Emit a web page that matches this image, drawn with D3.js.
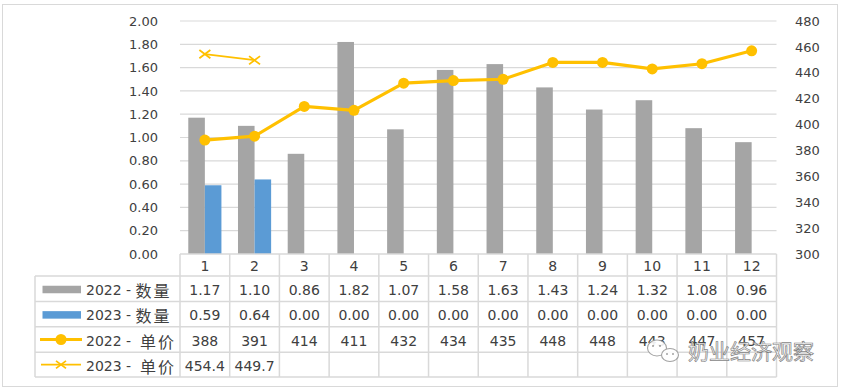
<!DOCTYPE html>
<html><head><meta charset="utf-8">
<script src="https://cdn.jsdelivr.net/npm/d3@7"></script>
<style>body{margin:0;background:#fff}svg{display:block}text{font-family:"DejaVu Sans","Noto Sans CJK SC",sans-serif;}</style>
</head><body><svg id="c" width="842" height="390"></svg>
<script>
const categories = ["1","2","3","4","5","6","7","8","9","10","11","12"];
const qty2022 = [1.17,1.10,0.86,1.82,1.07,1.58,1.63,1.43,1.24,1.32,1.08,0.96];
const qty2023 = [0.59,0.64,0,0,0,0,0,0,0,0,0,0];
const price2022 = [388,391,414,411,432,434,435,448,448,443,447,457];
const price2023 = [454.4,449.7,null,null,null,null,null,null,null,null,null,null];
const leftTicks = [0,0.2,0.4,0.6,0.8,1.0,1.2,1.4,1.6,1.8,2.0];
const rightTicks = [300,320,340,360,380,400,420,440,460,480];
const seriesYears = ["2022 - ","2023 - ","2022 -  ","2023 -  "];
const seriesWords = ["数量","数量","单价","单价"];

const svg = d3.select("#c");
const L=180, R=776.5, T=21, B=254;
const grey="#A5A5A5", blue="#5B9BD5", gold="#FFC000", gridC="#D9D9D9", txtC="#404040";

// outer border
svg.append("rect").attr("x",2.5).attr("y",4.5).attr("width",835).attr("height",382).attr("fill","#fff").attr("stroke","#D9D9D9");

const x = d3.scaleBand().domain(categories).range([L,R]);
const bw = x.bandwidth();
const xi = d3.scaleBand().domain(["a","b"]).range([bw/6, bw*5/6]);
const yL = d3.scaleLinear().domain([0,2]).range([B,T]);
const yR = d3.scaleLinear().domain([300,480]).range([B,T]);

// gridlines
svg.append("g").selectAll("line").data(leftTicks.slice(1)).join("line")
  .attr("x1",L).attr("x2",R).attr("y1",d=>yL(d)).attr("y2",d=>yL(d))
  .attr("stroke",gridC).attr("stroke-width",1.2);

// left axis
const axL = svg.append("g").attr("transform",`translate(${L-22},0)`)
  .call(d3.axisLeft(yL).tickValues(leftTicks).tickFormat(d3.format(".2f")).tickSize(0).tickPadding(0));
axL.select(".domain").remove();
axL.selectAll("text").attr("font-size",13).attr("fill",txtC).attr("font-family",'"DejaVu Sans",sans-serif');
// right axis
const axR = svg.append("g").attr("transform",`translate(795,0)`)
  .call(d3.axisRight(yR).tickValues(rightTicks).tickSize(0).tickPadding(0));
axR.select(".domain").remove();
axR.selectAll("text").attr("font-size",13).attr("fill",txtC).attr("font-family",'"DejaVu Sans",sans-serif');

// bars
const g = svg.append("g");
g.selectAll(".b1").data(qty2022).join("rect")
  .attr("x",(d,i)=>x(categories[i])+xi("a")).attr("width",xi.bandwidth())
  .attr("y",d=>yL(d)).attr("height",d=>B-yL(d)).attr("fill",grey);
g.selectAll(".b2").data(qty2023).join("rect")
  .attr("x",(d,i)=>x(categories[i])+xi("b")).attr("width",xi.bandwidth())
  .attr("y",d=>yL(d)).attr("height",d=>B-yL(d)).attr("fill",blue);

// lines
const cx = i=>x(categories[i])+bw/2;
const line = d3.line().defined(d=>d!=null).x((d,i)=>cx(i)).y(d=>yR(d));
svg.append("path").attr("d",line(price2022)).attr("fill","none").attr("stroke",gold).attr("stroke-width",3.2).attr("stroke-linejoin","round");
svg.append("g").selectAll("circle").data(price2022).join("circle")
  .attr("cx",(d,i)=>cx(i)).attr("cy",d=>yR(d)).attr("r",5.5).attr("fill",gold);
svg.append("path").attr("d",line(price2023)).attr("fill","none").attr("stroke",gold).attr("stroke-width",1.8);
function cross(sel,px,py,s){
  sel.append("path").attr("d",`M${px-s},${py-s*0.75}L${px+s},${py+s*0.75}M${px-s},${py+s*0.75}L${px+s},${py-s*0.75}`)
    .attr("stroke",gold).attr("stroke-width",1.8).attr("fill","none");
}
price2023.forEach((d,i)=>{ if(d!=null) cross(svg,cx(i),yR(d),5.5); });

// table
const rowY = [254,276,301.5,326.8,352.2,377];
const tLeft = 35;
const tb = svg.append("g");
tb.append("line").attr("x1",L).attr("x2",R).attr("y1",rowY[0]).attr("y2",rowY[0]).attr("stroke",gridC).attr("stroke-width",1.5);
rowY.slice(1).forEach(y=>tb.append("line").attr("x1",tLeft).attr("x2",R).attr("y1",y).attr("y2",y).attr("stroke",gridC).attr("stroke-width",1.5));
tb.append("line").attr("x1",tLeft).attr("x2",tLeft).attr("y1",rowY[1]).attr("y2",rowY[5]).attr("stroke",gridC).attr("stroke-width",1.5);
categories.forEach(c=>tb.append("line").attr("x1",x(c)).attr("x2",x(c)).attr("y1",rowY[0]).attr("y2",rowY[5]).attr("stroke",gridC).attr("stroke-width",1.5));
tb.append("line").attr("x1",R).attr("x2",R).attr("y1",rowY[0]).attr("y2",rowY[5]).attr("stroke",gridC).attr("stroke-width",1.5);

tb.selectAll(".h").data(categories).join("text")
  .attr("x",d=>x(d)+bw/2).attr("y",(rowY[0]+rowY[1])/2+1).attr("text-anchor","middle").attr("dominant-baseline","central")
  .attr("font-size",14).attr("fill",txtC).text(d=>d);

const rows = [
  {vals:qty2022, fmt:d=>d3.format(".2f")(d)},
  {vals:qty2023, fmt:d=>d3.format(".2f")(d)},
  {vals:price2022, fmt:d=>String(d)},
  {vals:price2023, fmt:d=>d==null?"":d3.format(".1f")(d)}
];
rows.forEach((r,ri)=>{
  const yc=(rowY[ri+1]+rowY[ri+2])/2+1;
  tb.append("g").selectAll("text").data(r.vals).join("text")
    .attr("x",(d,i)=>cx(i)).attr("y",yc).attr("text-anchor","middle").attr("dominant-baseline","central")
    .attr("font-size",14).attr("fill",txtC).text(d=>r.fmt(d));
  const t = tb.append("text").attr("x",86).attr("y",yc).attr("dominant-baseline","central")
    .attr("fill",txtC).style("white-space","pre");
  t.append("tspan").attr("font-size",14).text(seriesYears[ri]);
  t.append("tspan").attr("font-size",16).attr("letter-spacing",2)
    .attr("font-family",'"Noto Sans CJK SC",sans-serif').text(seriesWords[ri]);
  if(ri===0||ri===1){
    tb.append("rect").attr("x",42.5).attr("y",yc-4).attr("width",38.5).attr("height",7.5).attr("fill",ri===0?grey:blue);
  } else if(ri===2){
    tb.append("line").attr("x1",40).attr("x2",82).attr("y1",yc-1).attr("y2",yc-1).attr("stroke",gold).attr("stroke-width",3.2);
    tb.append("circle").attr("cx",61).attr("cy",yc-1).attr("r",5.5).attr("fill",gold);
  } else {
    tb.append("line").attr("x1",41).attr("x2",81).attr("y1",yc-1).attr("y2",yc-1).attr("stroke",gold).attr("stroke-width",1.8);
    cross(tb,61,yc-1,5);
  }
});

// watermark
const wm = svg.append("g").attr("opacity",0.9);
wm.append("ellipse").attr("cx",657).attr("cy",348).attr("rx",9.5).attr("ry",8).attr("fill","#fff").attr("stroke","#999").attr("stroke-width",1.1);
wm.append("ellipse").attr("cx",670).attr("cy",355).attr("rx",8.5).attr("ry",6.5).attr("fill","#fff").attr("stroke","#999").attr("stroke-width",1.1);
[[653,346],[660,346],[667,354],[673,354]].forEach(p=>wm.append("circle").attr("cx",p[0]).attr("cy",p[1]).attr("r",1).attr("fill","#999"));
wm.append("text").attr("x",688).attr("y",352).attr("dominant-baseline","central").attr("font-size",21)
  .attr("font-family",'"Noto Sans CJK SC",sans-serif')
  .attr("fill","#fafafa").attr("stroke","#777").attr("stroke-width",0.7).text("奶业经济观察");
</script></body></html>
